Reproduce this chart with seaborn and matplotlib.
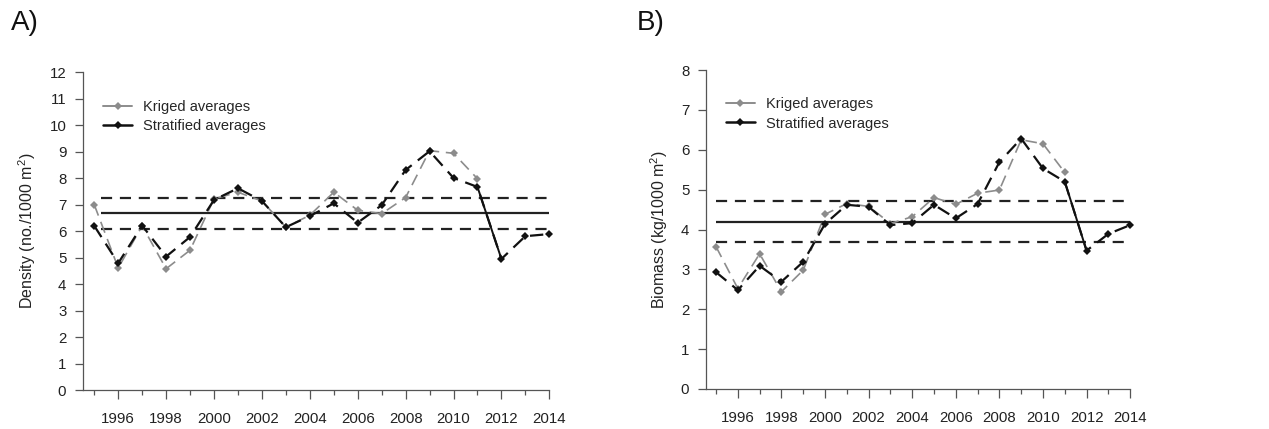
import numpy as np
import pandas as pd
import matplotlib
matplotlib.use("Agg")
import matplotlib.pyplot as plt
import seaborn as sns
from matplotlib.lines import Line2D

# ---------------- data ----------------
years_strat = list(range(1995, 2015))
years_krig = list(range(1995, 2012))
label_years = list(range(1996, 2015, 2))
minor_years = list(range(1995, 2014, 2))

density_kriged = [7.0, 4.61, 6.2, 4.58, 5.28, 7.22, 7.47, 7.14, 6.15, 6.6, 7.47,
                  6.79, 6.66, 7.27, 9.04, 8.94, 7.98]
density_strat = [6.2, 4.79, 6.21, 5.04, 5.78, 7.18, 7.62, 7.14, 6.15, 6.57, 7.05,
                 6.32, 6.98, 8.31, 9.02, 8.01, 7.67, 4.95, 5.81, 5.89]
density_mean = 6.67
density_ci = [6.10, 7.25]

biomass_kriged = [3.57, 2.52, 3.39, 2.44, 2.98, 4.38, 4.65, 4.58, 4.15, 4.32, 4.8,
                  4.63, 4.91, 4.99, 6.25, 6.15, 5.43]
biomass_strat = [2.93, 2.48, 3.09, 2.69, 3.19, 4.14, 4.62, 4.57, 4.11, 4.16, 4.62,
                 4.28, 4.64, 5.69, 6.28, 5.53, 5.2, 3.47, 3.89, 4.11]
biomass_mean = 4.19
biomass_ci = [3.68, 4.72]

legend_labels = ["Kriged averages", "Stratified averages"]
panel_labels = ["A)", "B)"]
ylabels = ["Density (no./1000 m$^2$)", "Biomass (kg/1000 m$^2$)"]

# ---------------- style ----------------
sns.set_style("ticks")
plt.rcParams["font.family"] = ["Liberation Sans", "DejaVu Sans"]
plt.rcParams["mathtext.fontset"] = "custom"
plt.rcParams["mathtext.rm"] = "Liberation Sans"

GREY = "#8c8c8c"
BLACK = "#111111"
LINE = "#222222"
AX = "#555555"

fig = plt.figure(figsize=(12.69, 4.29), dpi=100)
axA = fig.add_axes([83 / 1269, 39 / 429, 473.5 / 1269, 317.7 / 429])
axB = fig.add_axes([706 / 1269, 40 / 429, 430.7 / 1269, 319 / 429])


def draw(ax, krig, strat, mean, ci, ymax, ylabel, xleft, hstart):
    dk = pd.DataFrame({"year": years_krig, "value": krig})
    ds = pd.DataFrame({"year": years_strat, "value": strat})
    sns.lineplot(data=dk, x="year", y="value", ax=ax, color=GREY, lw=1.2,
                 linestyle=(0, (7, 4)), marker="D", markersize=4.2,
                 markeredgewidth=0, zorder=3)
    sns.lineplot(data=ds, x="year", y="value", ax=ax, color=BLACK, lw=1.6,
                 linestyle=(0, (6, 3.5)), marker="D", markersize=4.2,
                 markeredgewidth=0, zorder=4)
    # the 2011-2012 step appears as a continuous stroke
    seg = ds.iloc[16:18]
    sns.lineplot(data=seg, x="year", y="value", ax=ax, color=BLACK, lw=1.4,
                 linestyle="-", zorder=4)
    ax.hlines(mean, hstart, 2014, color=LINE, lw=1.6, zorder=2)
    ax.hlines(ci, hstart, 2014, color=LINE, lw=1.6, linestyles=[(0, (5, 3.5))],
              zorder=2)

    ax.set_xlim(xleft, 2014.3)
    ax.set_ylim(0, ymax)
    ax.set_xticks(label_years)
    ax.set_xticklabels([str(y) for y in label_years])
    ax.set_xticks(minor_years, minor=True)
    ax.set_yticks(range(0, ymax + 1))
    ax.tick_params(axis="both", which="major", direction="out", length=6.5,
                   width=0.9, color=AX, labelsize=10.8, labelcolor="#222222")
    ax.tick_params(axis="x", which="minor", direction="out", length=3.8,
                   width=0.9, color=AX)
    ax.tick_params(axis="y", which="major", length=6)
    ax.tick_params(axis="x", which="major", pad=9)
    ax.tick_params(axis="y", pad=6)
    for s in ["top", "right"]:
        ax.spines[s].set_visible(False)
    ax.spines["left"].set_color(AX)
    ax.spines["bottom"].set_color(AX)
    ax.spines["left"].set_linewidth(0.9)
    ax.spines["bottom"].set_linewidth(0.9)
    ax.spines["bottom"].set_bounds(xleft, 2014)
    ax.set_xlabel("")
    ax.set_ylabel(ylabel, fontsize=11.5, color="#222222", labelpad=8)

    handles = [Line2D([], [], color=GREY, lw=1.4, marker="D", markersize=4,
                      markeredgewidth=0),
               Line2D([], [], color=BLACK, lw=1.8, marker="D", markersize=4,
                      markeredgewidth=0)]
    ax.legend(handles, legend_labels, loc="upper left", frameon=False,
              fontsize=10.5, handlelength=2.0, handletextpad=0.75,
              labelspacing=0.35, bbox_to_anchor=(0.015, 0.955))


draw(axA, density_kriged, density_strat, density_mean, density_ci, 12,
     ylabels[0], 1994.53, 1995.3)
draw(axB, biomass_kriged, biomass_strat, biomass_mean, biomass_ci, 8,
     ylabels[1], 1994.54, 1995)

fig.text(11 / 1269, 1 - 23 / 429, panel_labels[0], fontsize=20, va="center",
         ha="left", color="#111111")
fig.text(637 / 1269, 1 - 23 / 429, panel_labels[1], fontsize=20, va="center",
         ha="left", color="#111111")

fig.savefig("out.png", dpi=100)
